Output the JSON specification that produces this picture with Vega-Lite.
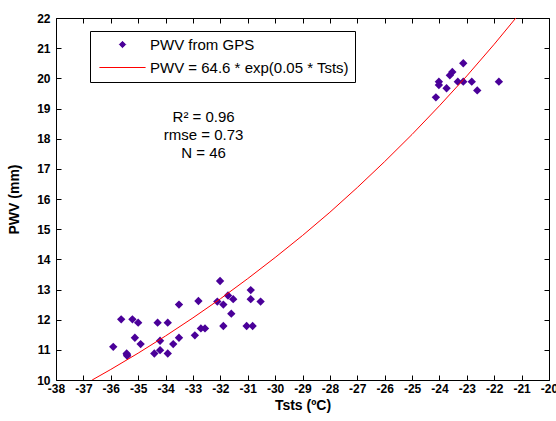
{
  "$schema": "https://vega.github.io/schema/vega-lite/v6.json",
  "width": 493,
  "height": 362,
  "autosize": {"type": "none"},
  "padding": {"left": 56, "top": 18, "right": 7, "bottom": 41},
  "background": "white",
  "config": {
    "view": {"stroke": "black", "strokeWidth": 1},
    "font": "Liberation Sans",
    "axis": {
      "domain": false,
      "grid": false,
      "tickColor": "black",
      "tickSize": 5,
      "tickWidth": 1,
      "labelColor": "black",
      "labelFont": "Liberation Sans",
      "labelFontSize": 12,
      "labelFontWeight": "bold",
      "titleColor": "black",
      "titleFont": "Liberation Sans",
      "titleFontSize": 14,
      "titleFontWeight": "bold"
    }
  },
  "datasets": {
    "gps": [
      {"T": -35.91, "PWV": 11.10}, {"T": -35.62, "PWV": 12.01}, {"T": -35.21, "PWV": 12.01},
      {"T": -35.00, "PWV": 11.90}, {"T": -35.12, "PWV": 11.40}, {"T": -34.91, "PWV": 11.19},
      {"T": -35.42, "PWV": 10.88}, {"T": -35.40, "PWV": 10.80}, {"T": -34.29, "PWV": 11.90},
      {"T": -33.92, "PWV": 11.90}, {"T": -33.51, "PWV": 12.50}, {"T": -32.80, "PWV": 12.62},
      {"T": -34.20, "PWV": 11.30}, {"T": -34.20, "PWV": 10.99}, {"T": -34.41, "PWV": 10.88},
      {"T": -33.92, "PWV": 10.88}, {"T": -33.72, "PWV": 11.19}, {"T": -33.51, "PWV": 11.40},
      {"T": -32.93, "PWV": 11.48}, {"T": -32.71, "PWV": 11.71}, {"T": -32.56, "PWV": 11.71},
      {"T": -32.11, "PWV": 12.60}, {"T": -32.01, "PWV": 13.28}, {"T": -31.89, "PWV": 12.50},
      {"T": -31.72, "PWV": 12.80}, {"T": -31.53, "PWV": 12.68}, {"T": -30.89, "PWV": 12.98},
      {"T": -30.89, "PWV": 12.68}, {"T": -30.53, "PWV": 12.60}, {"T": -31.60, "PWV": 12.20},
      {"T": -31.89, "PWV": 11.79}, {"T": -31.04, "PWV": 11.79}, {"T": -30.82, "PWV": 11.79},
      {"T": -35.41, "PWV": 10.84},
      {"T": -23.13, "PWV": 20.50}, {"T": -23.53, "PWV": 20.21}, {"T": -23.62, "PWV": 20.10},
      {"T": -24.02, "PWV": 19.89}, {"T": -24.02, "PWV": 19.78}, {"T": -23.74, "PWV": 19.67},
      {"T": -24.13, "PWV": 19.37}, {"T": -23.33, "PWV": 19.89}, {"T": -23.13, "PWV": 19.89},
      {"T": -22.82, "PWV": 19.89}, {"T": -22.62, "PWV": 19.60}, {"T": -21.83, "PWV": 19.89}
    ],
    "fit": [
      {"T": -36.68, "PWV": 10.00}, {"T": -36, "PWV": 10.35}, {"T": -35, "PWV": 10.89},
      {"T": -34, "PWV": 11.46}, {"T": -33, "PWV": 12.06}, {"T": -32, "PWV": 12.69},
      {"T": -31, "PWV": 13.36}, {"T": -30, "PWV": 14.06}, {"T": -29, "PWV": 14.79},
      {"T": -28, "PWV": 15.56}, {"T": -27, "PWV": 16.38}, {"T": -26, "PWV": 17.24},
      {"T": -25, "PWV": 18.14}, {"T": -24, "PWV": 19.09}, {"T": -23, "PWV": 20.08},
      {"T": -22, "PWV": 21.13}, {"T": -21.21, "PWV": 22.00}
    ],
    "stats": [
      {"T": -32.61, "PWV": 18.73, "label": "R² = 0.96"},
      {"T": -32.61, "PWV": 18.12, "label": "rmse = 0.73"},
      {"T": -32.61, "PWV": 17.51, "label": "N = 46"}
    ]
  },
  "resolve": {"axis": {"x": "independent", "y": "independent"}},
  "layer": [
    {
      "data": {"name": "gps"},
      "transform": [{"calculate": "'PWV from GPS'", "as": "series"}],
      "mark": {"type": "point", "filled": true, "size": 70, "opacity": 1},
      "encoding": {
        "x": {
          "field": "T", "type": "quantitative",
          "scale": {"domain": [-38, -20], "nice": false, "zero": false},
          "axis": {"orient": "bottom", "title": "Tsts (ºC)", "ticks": false, "values": [-38,-37,-36,-35,-34,-33,-32,-31,-30,-29,-28,-27,-26,-25,-24,-23,-22,-21,-20], "labelExpr": "'' + datum.value", "labelPadding": 3, "titlePadding": 4, "labelFlush": false, "labelOverlap": false}
        },
        "y": {
          "field": "PWV", "type": "quantitative",
          "scale": {"domain": [10, 22], "nice": false, "zero": false},
          "axis": {"orient": "left", "title": "PWV (mm)", "ticks": false, "values": [10,11,12,13,14,15,16,17,18,19,20,21,22], "labelPadding": 6, "titlePadding": 15, "labelFlush": false, "labelOverlap": false}
        },
        "color": {
          "field": "series", "type": "nominal",
          "scale": {"domain": ["PWV from GPS", "PWV = 64.6 * exp(0.05 * Tsts)"], "range": ["#4a0099", "#ff0000"]},
          "legend": {
            "orient": "none", "legendX": 34, "legendY": 13,
            "title": null,
            "strokeColor": "black", "fillColor": "white",
            "padding": 6,
            "labelFont": "Liberation Sans", "labelFontSize": 15, "labelColor": "black", "labelLimit": 400,
            "labelOffset": 20,
            "symbolOffset": 19,
            "symbolSize": 40, "symbolStrokeWidth": 1,
            "rowPadding": 7,
            "encode": {
              "symbols": {
                "update": {
                  "stroke": {"signal": "datum.value === 'PWV from GPS' ? '#4a0099' : '#ff0000'"},
                  "strokeWidth": {"value": 1},
                  "opacity": {"value": 1}
                }
              }
            }
          }
        },
        "shape": {
          "field": "series", "type": "nominal",
          "scale": {"domain": ["PWV from GPS", "PWV = 64.6 * exp(0.05 * Tsts)"], "range": ["diamond", "M-7.3,0H7.3"]}
        }
      }
    },
    {
      "data": {"name": "fit"},
      "transform": [{"calculate": "'PWV = 64.6 * exp(0.05 * Tsts)'", "as": "series"}],
      "mark": {"type": "line", "strokeWidth": 1, "clip": true},
      "encoding": {
        "x": {"field": "T", "type": "quantitative", "axis": {"orient": "top", "offset": -362, "title": null, "labels": false, "values": [-38,-37,-36,-35,-34,-33,-32,-31,-30,-29,-28,-27,-26,-25,-24,-23,-22,-21,-20]}},
        "y": {"field": "PWV", "type": "quantitative", "axis": {"orient": "right", "offset": -493, "title": null, "labels": false, "values": [10,11,12,13,14,15,16,17,18,19,20,21,22]}},
        "color": {"field": "series", "type": "nominal"}
      }
    },
    {
      "data": {"name": "stats"},
      "mark": {"type": "text", "font": "Liberation Sans", "fontSize": 15, "color": "black", "align": "center", "baseline": "middle"},
      "encoding": {
        "x": {"field": "T", "type": "quantitative", "axis": {"orient": "bottom", "offset": -362, "title": null, "labels": false, "values": [-38,-37,-36,-35,-34,-33,-32,-31,-30,-29,-28,-27,-26,-25,-24,-23,-22,-21,-20]}},
        "y": {"field": "PWV", "type": "quantitative", "axis": {"orient": "left", "offset": -493, "title": null, "labels": false, "values": [10,11,12,13,14,15,16,17,18,19,20,21,22]}},
        "text": {"field": "label"}
      }
    }
  ]
}
